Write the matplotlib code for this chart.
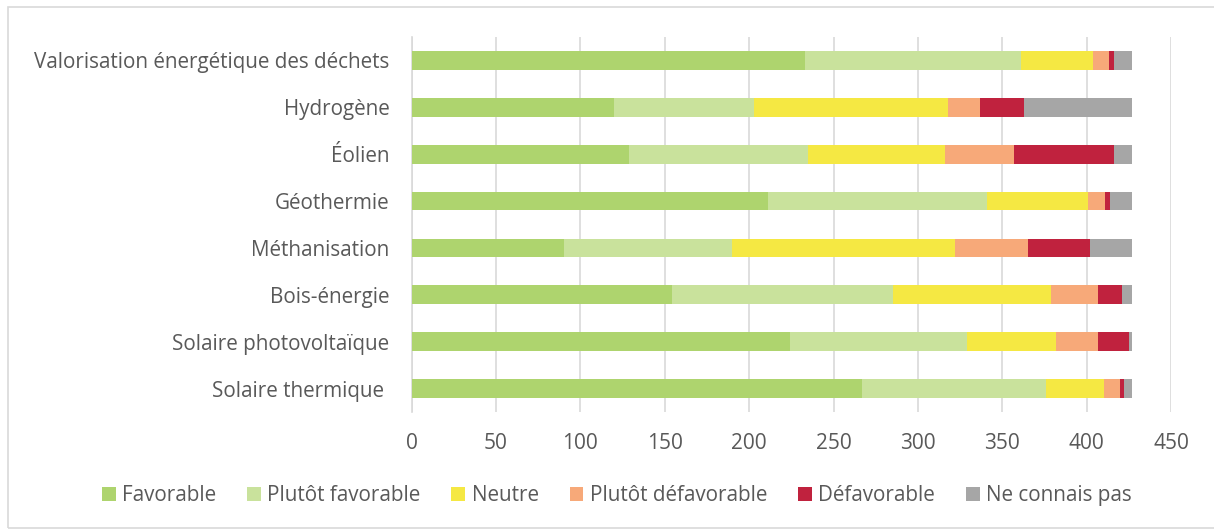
import matplotlib.pyplot as plt
import numpy as np
from matplotlib.patches import Rectangle

plt.rcParams['font.family'] = ['Open Sans', 'DejaVu Sans']

categories = ["Valorisation énergétique des déchets", "Hydrogène", "Éolien", "Géothermie",
              "Méthanisation", "Bois-énergie", "Solaire photovoltaïque", "Solaire thermique "]
series_names = ["Favorable", "Plutôt favorable", "Neutre", "Plutôt défavorable",
                "Défavorable", "Ne connais pas"]
favorable = [233, 120, 129, 211, 90, 154, 224, 267]
plutot_favorable = [128, 83, 106, 130, 100, 131, 105, 109]
neutre = [43, 115, 81, 60, 132, 94, 53, 34]
plutot_defavorable = [9, 19, 41, 10, 43, 28, 25, 10]
defavorable = [3, 26, 59, 3, 37, 14, 18, 2]
ne_connais_pas = [11, 64, 11, 13, 25, 6, 2, 5]
colors = ["#AED46E", "#C9E29C", "#F5E843", "#F7A979", "#C0223E", "#A6A6A6"]
xticks = [0, 50, 100, 150, 200, 250, 300, 350, 400, 450]

series = [favorable, plutot_favorable, neutre, plutot_defavorable, defavorable, ne_connais_pas]

fig = plt.figure(figsize=(12.14, 5.29), dpi=100)
ax = fig.add_axes([0.3391, 0.2212, 0.6255, 0.7089])

y = np.arange(len(categories))
left = np.zeros(len(categories))
for name, vals, c in zip(series_names, series, colors):
    ax.barh(y, vals, left=left, height=0.4, color=c, label=name, zorder=3)
    left += np.array(vals)

ax.set_ylim(-0.5, len(categories) - 0.5)
ax.invert_yaxis()
ax.set_xlim(0, 450)
ax.set_xticks(xticks)
ax.set_yticks(y)
ax.set_yticklabels(categories)
ax.xaxis.grid(True, color="#D9D9D9", linewidth=1.2, zorder=0)
for s in ["top", "right", "bottom"]:
    ax.spines[s].set_visible(False)
ax.spines["left"].set_color("#D9D9D9")
ax.spines["left"].set_linewidth(1.2)
ax.tick_params(axis="both", length=0, colors="#595959")
ax.tick_params(axis="y", labelsize=14.9, pad=16)
ax.tick_params(axis="x", labelsize=15, pad=15)

fig.legend(loc="center", bbox_to_anchor=(0.508, 0.0624), ncol=6, frameon=False,
           fontsize=14.9, labelcolor="#595959", handlelength=0.67, handleheight=0.67,
           handletextpad=0.3, columnspacing=1.5)

fig.patches.append(Rectangle((8 / 1214, 1 / 529), 1.0, 521 / 529, transform=fig.transFigure,
                             fill=False, edgecolor="#D9D9D9", linewidth=1.2))

fig.savefig("out.png", dpi=100)
